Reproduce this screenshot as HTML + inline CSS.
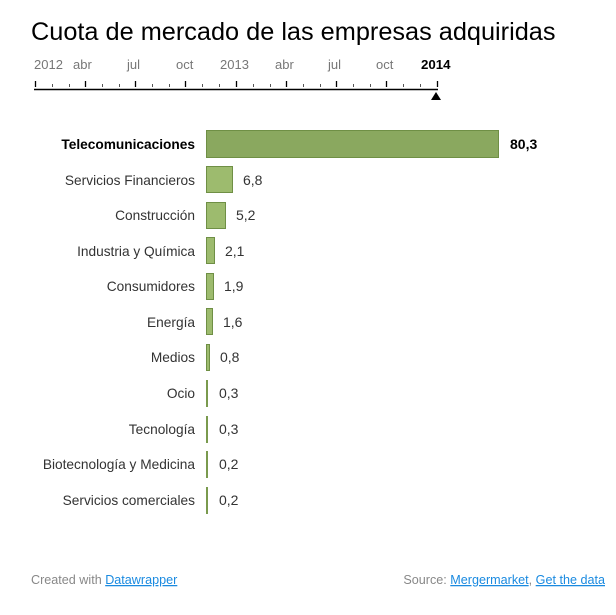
<!DOCTYPE html>
<html><head><meta charset="utf-8"><style>
body{margin:0;background:#fff;width:616px;height:610px;overflow:hidden;font-family:"Liberation Sans",Arial,sans-serif}
</style></head><body>
<svg width="616" height="610" xmlns="http://www.w3.org/2000/svg" font-family="Liberation Sans, Arial, sans-serif">
<text x="31" y="40" font-size="25.3" fill="#000">Cuota de mercado de las empresas adquiridas</text>
<g font-size="13" fill="#777">
<text x="34" y="69">2012</text><text x="73" y="69">abr</text><text x="127" y="69">jul</text><text x="176" y="69">oct</text>
<text x="220" y="69">2013</text><text x="275" y="69">abr</text><text x="328" y="69">jul</text><text x="376" y="69">oct</text>
</g>
<text x="421" y="69" font-size="13.3" font-weight="bold" fill="#000">2014</text>
<line x1="34" y1="89.5" x2="438" y2="89.5" stroke="#000" stroke-width="1.5"/>
<g stroke="#000" stroke-width="1.3">
<path d="M35.5 81v6M85.5 81v6M135.5 81v6M185.5 81v6M236.5 81v6M286.5 81v6M336.5 81v6M386.5 81v6M437.5 81v6"/>
</g>
<g stroke="#555" stroke-width="1">
<path d="M52.5 84v3M69.5 84v3M102.5 84v3M119.5 84v3M152.5 84v3M169.5 84v3M202.5 84v3M219.5 84v3M253.5 84v3M270.5 84v3M303.5 84v3M320.5 84v3M353.5 84v3M370.5 84v3M403.5 84v3M420.5 84v3"/>
</g>
<polygon points="431,100 441,100 436,92" fill="#000"/>
<g font-size="13.7" fill="#333" text-anchor="end">
<text x="195" y="149" font-weight="bold" fill="#000">Telecomunicaciones</text>
<text x="195" y="185">Servicios Financieros</text>
<text x="195" y="220">Construcción</text>
<text x="195" y="256">Industria y Química</text>
<text x="195" y="291">Consumidores</text>
<text x="195" y="327">Energía</text>
<text x="195" y="362">Medios</text>
<text x="195" y="398">Ocio</text>
<text x="195" y="434">Tecnología</text>
<text x="195" y="469">Biotecnología y Medicina</text>
<text x="195" y="505">Servicios comerciales</text>
</g>
<g stroke="#6f8f45" stroke-width="1" fill="#9dbb6e">
<rect x="206.5" y="130.5" width="292" height="27" fill="#8aa85f"/>
<rect x="206.5" y="166.5" width="26" height="26"/>
<rect x="206.5" y="202.5" width="19" height="26"/>
<rect x="206.5" y="237.5" width="8" height="26"/>
<rect x="206.5" y="273.5" width="7" height="26"/>
<rect x="206.5" y="308.5" width="6" height="26"/>
<rect x="206.5" y="344.5" width="3" height="26"/>
</g>
<g fill="#7a9a4e">
<rect x="206" y="380" width="2" height="27"/>
<rect x="206" y="416" width="2" height="27"/>
<rect x="206" y="451" width="2" height="27"/>
<rect x="206" y="487" width="2" height="27"/>
</g>
<g font-size="14" fill="#333">
<text x="510" y="149" font-weight="bold" fill="#000">80,3</text>
<text x="243" y="185">6,8</text>
<text x="236" y="220">5,2</text>
<text x="225" y="256">2,1</text>
<text x="224" y="291">1,9</text>
<text x="223" y="327">1,6</text>
<text x="220" y="362">0,8</text>
<text x="219" y="398">0,3</text>
<text x="219" y="434">0,3</text>
<text x="219" y="469">0,2</text>
<text x="219" y="505">0,2</text>
</g>
<g font-size="12.6" fill="#888">
<text x="31" y="584">Created with <tspan fill="#1a8ae0" text-decoration="underline">Datawrapper</tspan></text>
<text x="605" y="584" text-anchor="end">Source: <tspan fill="#1a8ae0" text-decoration="underline">Mergermarket</tspan>, <tspan fill="#1a8ae0" text-decoration="underline">Get the data</tspan></text>
</g>
</svg>
</body></html>
